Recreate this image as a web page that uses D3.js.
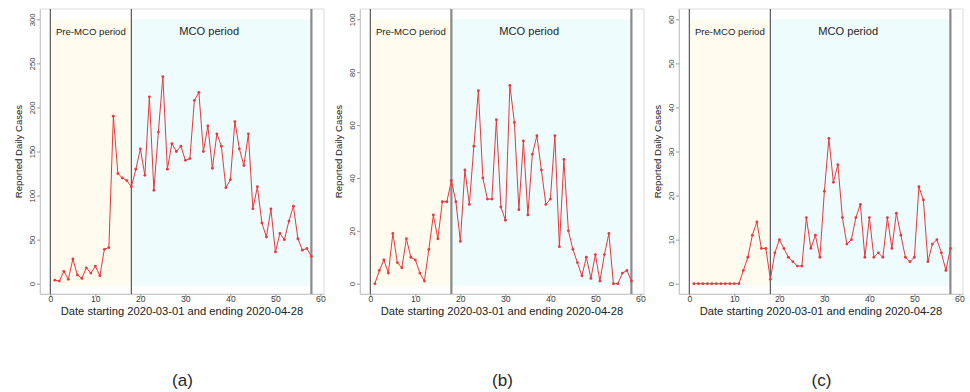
<!DOCTYPE html>
<html>
<head>
<meta charset="utf-8">
<script src="https://cdn.jsdelivr.net/npm/d3@7"></script>
<style>
  html, body { margin: 0; padding: 0; background: #fff; }
  svg { display: block; font-family: "Liberation Sans", Arial, sans-serif; }
</style>
</head>
<body>
<div id="chart"></div>
<script>
// days 1..58 (2020-03-01 .. 2020-04-28)
const days = d3.range(1, 59);

const casesA = [4, 3, 14, 5, 28, 10, 6, 18, 12, 20, 9, 39, 41, 190, 125, 120, 117, 110,
  130, 153, 123, 212, 106, 172, 235, 130, 159, 150, 156, 140, 142, 208, 217, 150, 179,
  131, 170, 156, 109, 118, 184, 153, 134, 170, 85, 110, 69, 53, 85, 36, 57, 50, 71, 88,
  51, 38, 40, 31];

const casesB = [0, 5, 9, 4, 19, 8, 6, 17, 10, 9, 4, 1, 13, 26, 17, 31, 31, 39,
  31, 16, 43, 30, 52, 73, 40, 32, 32, 62, 29, 24, 75, 61, 28, 54, 26, 49, 56, 43, 30,
  32, 56, 14, 47, 20, 13, 8, 3, 10, 2, 11, 1, 11, 19, 0, 0, 4, 5, 1];

const casesC = [0, 0, 0, 0, 0, 0, 0, 0, 0, 0, 0, 3, 6, 11, 14, 8, 8, 1,
  7, 10, 8, 6, 5, 4, 4, 15, 8, 11, 6, 21, 33, 23, 27, 15, 9, 10, 15, 18, 6, 15, 6, 7,
  6, 15, 8, 16, 11, 6, 5, 6, 22, 19, 5, 9, 10, 7, 3, 8];

const xTicks = [0, 10, 20, 30, 40, 50, 60];
const yTicksA = [0, 50, 100, 150, 200, 250, 300];
const yTicksB = [0, 20, 40, 60, 80, 100];
const yTicksC = [0, 10, 20, 30, 40, 50, 60];

const periods = [
  { name: 'Pre-MCO period', from: 0, to: 18, fill: '#fffcef', labelX: 9, size: 9.6 },
  { name: 'MCO period', from: 18, to: 58, fill: '#effcfd', labelX: 35.3, size: 11.1 }
];
const cutDays = [0, 18, 58];

const panels = [
  { ox: 0, values: casesA, yMax: 300, ticks: yTicksA, tag: '(a)', midThick: false },
  { ox: 320, values: casesB, yMax: 100, ticks: yTicksB, tag: '(b)', midThick: true },
  { ox: 639, values: casesC, yMax: 60, ticks: yTicksC, tag: '(c)', midThick: false }
];

const W = 970, H = 392;
const red = '#e8383d';

const svg = d3.select('#chart').append('svg')
  .attr('width', W).attr('height', H)
  .attr('viewBox', `0 0 ${W} ${H}`);

panels.forEach((p) => {
  const left = p.ox + 40, right = p.ox + 324, top = 9, bottom = 294;
  const x = d3.scaleLinear().domain([-2.3, 60.8]).range([left, right]);
  const y = d3.scaleLinear().domain([-0.039 * p.yMax, 1.039 * p.yMax]).range([bottom, top]);
  const g = svg.append('g');

  // period shading
  g.selectAll('rect.period')
    .data(periods)
    .join('rect')
    .attr('class', 'period')
    .attr('x', (d) => x(d.from))
    .attr('width', (d) => x(d.to) - x(d.from))
    .attr('y', y(p.yMax))
    .attr('height', y(-0.008 * p.yMax) - y(p.yMax))
    .attr('fill', (d) => d.fill);

  // plot region frame
  g.append('rect')
    .attr('x', left).attr('y', top)
    .attr('width', right - left).attr('height', bottom - top)
    .attr('fill', 'none')
    .attr('stroke', '#dcdcdc')
    .attr('stroke-width', 1);

  // reference lines
  g.selectAll('line.cut')
    .data(cutDays)
    .join('line')
    .attr('class', 'cut')
    .attr('x1', (d) => x(d)).attr('x2', (d) => x(d))
    .attr('y1', top).attr('y2', bottom)
    .attr('stroke', (d) => (d === 58 || (d === 18 && p.midThick) ? '#8a8a8a' : '#5a5a5a'))
    .attr('stroke-width', (d) => (d === 58 || (d === 18 && p.midThick) ? 2.2 : 1.2));

  // axes
  const xAxis = g.append('g')
    .attr('transform', `translate(0,${bottom})`)
    .call(d3.axisBottom(x).tickValues(xTicks).tickSize(3).tickSizeOuter(0));
  xAxis.select('.domain').attr('stroke', '#c8c8c8');
  xAxis.selectAll('.tick line').attr('stroke', '#999');
  xAxis.selectAll('.tick text')
    .attr('y', 1.5)
    .attr('fill', '#3a3a3a')
    .attr('font-size', 8.6)
    .attr('font-family', '"Liberation Sans", Arial, sans-serif');

  const yAxis = g.append('g')
    .attr('transform', `translate(${left},0)`)
    .call(d3.axisLeft(y).tickValues(p.ticks).tickSize(3).tickSizeOuter(0));
  yAxis.select('.domain').attr('stroke', '#c8c8c8');
  yAxis.selectAll('.tick line').attr('stroke', '#999');
  yAxis.selectAll('.tick text')
    .attr('x', null).attr('dy', null)
    .attr('transform', 'translate(-5.2,0) rotate(-90)')
    .attr('text-anchor', 'middle')
    .attr('fill', '#3a3a3a')
    .attr('font-size', 7.6)
    .attr('font-family', '"Liberation Sans", Arial, sans-serif');

  // period labels
  g.selectAll('text.plabel')
    .data(periods)
    .join('text')
    .attr('class', 'plabel')
    .attr('x', (d) => x(d.labelX))
    .attr('y', 34.8)
    .attr('text-anchor', 'middle')
    .attr('font-size', (d) => d.size)
    .attr('fill', '#222')
    .text((d) => d.name);

  // series
  const pts = days.map((d, i) => ({ day: d, v: p.values[i] }));
  g.append('path')
    .datum(pts)
    .attr('d', d3.line().x((d) => x(d.day)).y((d) => y(d.v)))
    .attr('fill', 'none')
    .attr('stroke', red)
    .attr('stroke-width', 1)
    .attr('stroke-linejoin', 'round');
  g.selectAll('circle.pt')
    .data(pts)
    .join('circle')
    .attr('class', 'pt')
    .attr('cx', (d) => x(d.day))
    .attr('cy', (d) => y(d.v))
    .attr('r', 1.4)
    .attr('fill', red);

  // titles
  const cx = (left + right) / 2;
  g.append('text')
    .attr('transform', `translate(${p.ox + 22},${(top + bottom) / 2}) rotate(-90)`)
    .attr('text-anchor', 'middle')
    .attr('font-size', 9.6)
    .attr('fill', '#222')
    .text('Reported Daily Cases');
  g.append('text')
    .attr('x', cx).attr('y', 315)
    .attr('text-anchor', 'middle')
    .attr('font-size', 11.2)
    .attr('fill', '#222')
    .text('Date starting 2020-03-01 and ending 2020-04-28');
  g.append('text')
    .attr('x', cx + 0.5).attr('y', 386)
    .attr('text-anchor', 'middle')
    .attr('font-size', 17)
    .attr('fill', '#262626')
    .text(p.tag);
});
</script>
</body>
</html>
